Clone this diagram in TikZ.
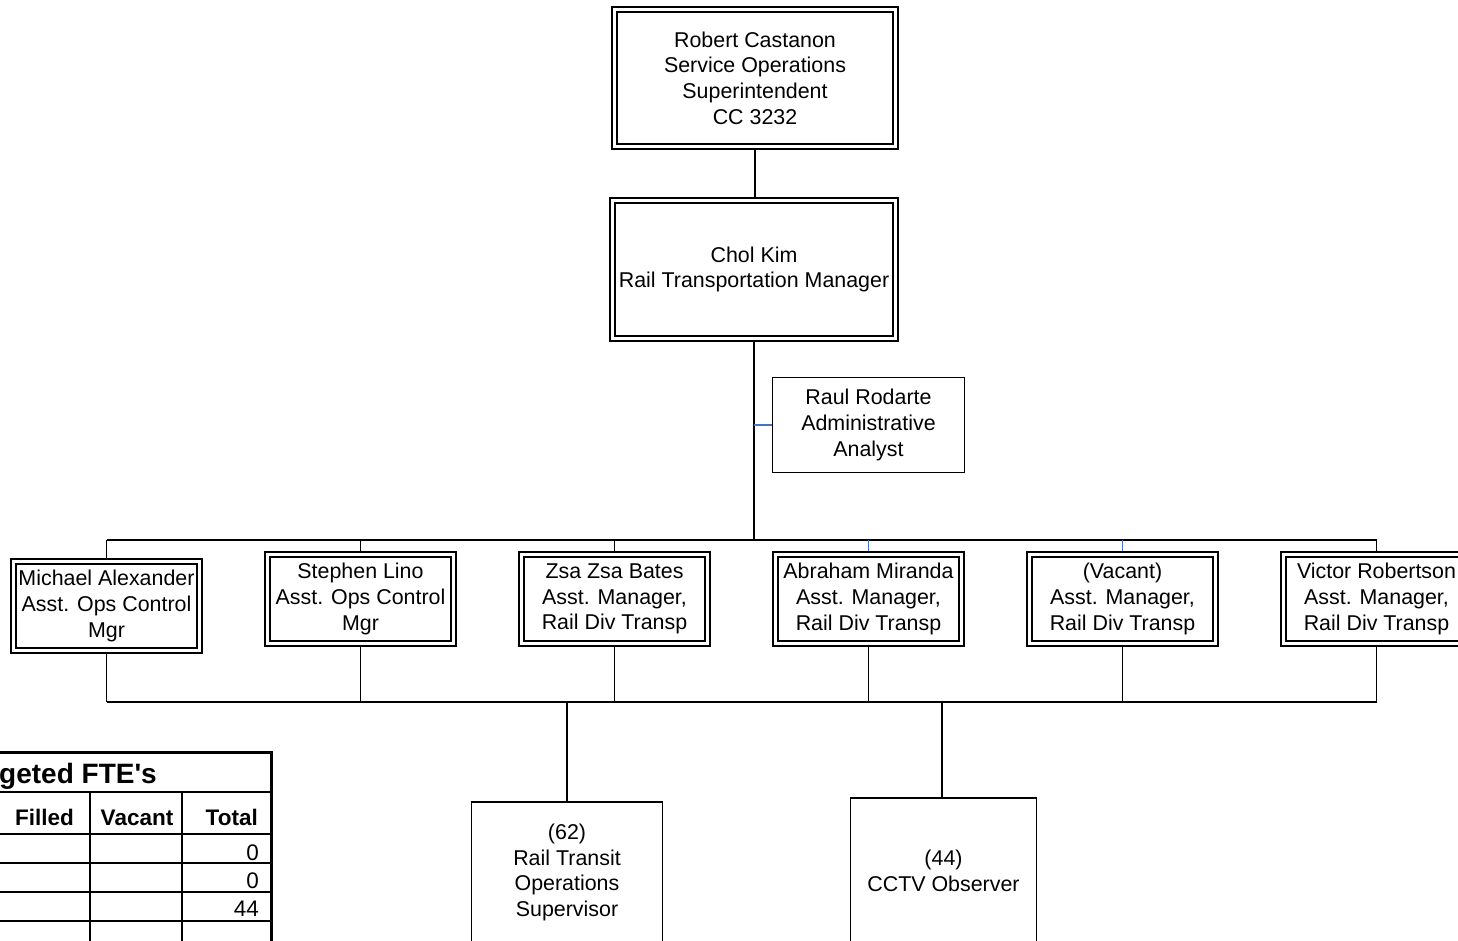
\documentclass[tikz,border=0pt]{standalone}
\usepackage{fontspec}
\setmainfont{Liberation Sans}
\definecolor{LinkBlue}{HTML}{4472C4}
\usetikzlibrary{positioning,backgrounds}

\begin{document}
\begin{tikzpicture}[x=1pt,y=-1pt,node distance=66.5pt,
  mgrbox/.style={draw,double,line width=1.5pt,double distance=3.4pt,inner sep=0pt,align=center,font=\fontsize{21.4}{25.7}\selectfont},
  rowbox/.style={mgrbox,minimum width=186pt,minimum height=89pt},
  staffbox/.style={draw,line width=1.5pt,inner sep=0pt,align=center,font=\fontsize{21.4}{25.7}\selectfont},
  link/.style={line width=1.8pt},
  bluelink/.style={line width=1.4pt,LinkBlue},
  rule/.style={line width=2.4pt},
  cell/.style={inner sep=0pt,font=\fontsize{22.5}{26}\selectfont},
  hcell/.style={inner sep=0pt,font=\bfseries\fontsize{22.5}{26}\selectfont}]
  \useasboundingbox (0,0) rectangle (1458,941);
  \clip (0,0) rectangle (1458,941);

  % top of the chart
  \node[mgrbox,minimum width=281pt,minimum height=137pt] (castanon) at (755,78) {Robert Castanon\\Service Operations\\Superintendent\\CC 3232};
  \node[mgrbox,minimum width=283pt,minimum height=138pt] (kim) at (754,269.5) {Chol Kim\\Rail Transportation Manager};
  \node[staffbox,minimum width=192pt,minimum height=95pt] (rodarte) at (868.5,425) {Raul Rodarte\\Administrative\\Analyst};

  % assistant managers
  \node[rowbox] (lino) at (360.5,599) {Stephen Lino\\Asst. Ops Control\\Mgr};
  \node[rowbox,left=of lino,yshift=-7pt] (alexander) {Michael Alexander\\Asst. Ops Control\\Mgr};
  \node[rowbox,right=of lino] (bates) {Zsa Zsa Bates\\Asst. Manager,\\Rail Div Transp};
  \node[rowbox,right=of bates] (miranda) {Abraham Miranda\\Asst. Manager,\\Rail Div Transp};
  \node[rowbox,right=of miranda] (vacant) {(Vacant)\\Asst. Manager,\\Rail Div Transp};
  \node[rowbox,right=of vacant] (robertson) {Victor Robertson\\Asst. Manager,\\Rail Div Transp};

  % staff
  \node[staffbox,minimum width=191pt,minimum height=141pt] (supv) at (567,872.5) {(62)\\Rail Transit\\Operations\\Supervisor};
  \node[staffbox,minimum width=186pt,minimum height=146pt] (cctv) at (943.5,871) {(44)\\CCTV Observer};

  \coordinate (upbus) at (754,540);
  \coordinate (lowbus) at (754,702);

  \begin{scope}[on background layer]
    \draw[link] (castanon.south) -- (castanon.south |- kim.north);
    \draw[link] (kim.south) -- (kim.south |- upbus);
    \draw[bluelink] (rodarte.west) -- (rodarte.west -| kim.south);
    \draw[link] (alexander.north |- upbus) -- (robertson.north |- upbus);
    \draw[link] (alexander.north) -- (alexander.north |- upbus);
    \draw[link] (lino.north) -- (lino.north |- upbus);
    \draw[link] (bates.north) -- (bates.north |- upbus);
    \draw[bluelink] (miranda.north) -- (miranda.north |- upbus);
    \draw[bluelink] (vacant.north) -- (vacant.north |- upbus);
    \draw[link] (robertson.north) -- (robertson.north |- upbus);
    \draw[link] (alexander.south) -- (alexander.south |- lowbus);
    \draw[link] (lino.south) -- (lino.south |- lowbus);
    \draw[link] (bates.south) -- (bates.south |- lowbus);
    \draw[link] (miranda.south) -- (miranda.south |- lowbus);
    \draw[link] (vacant.south) -- (vacant.south |- lowbus);
    \draw[link] (robertson.south) -- (robertson.south |- lowbus);
    \draw[link] (alexander.south |- lowbus) -- (robertson.south |- lowbus);
    \draw[link] (supv.north) -- (supv.north |- lowbus);
    \draw[link] ([xshift=-1.5pt]cctv.north) -- ([xshift=-1.5pt]cctv.north |- lowbus);
  \end{scope}

  % FTE table, cut by the page edge
  \draw[line width=3pt] (0,752) -| (271,941);
  \draw[rule] (0,792) -- (271,792);
  \draw[rule] (0,834) -- (271,834);
  \draw[rule] (0,863) -- (271,863);
  \draw[rule] (0,892) -- (271,892);
  \draw[rule] (0,921) -- (271,921);
  \draw[rule] (90,792) -- (90,941);
  \draw[rule] (182,792) -- (182,941);
  \node[hcell,font=\bfseries\fontsize{28}{32}\selectfont,anchor=base east] (ttl) at (157,783) {geted FTE\textquotesingle s};
  \node[hcell,anchor=base east] (hfilled) at (74,825) {Filled};
  \node[hcell,anchor=base] (hvacant) at (137,825) {Vacant};
  \node[hcell,anchor=base east] (htotal) at (258,825) {Total};
  \node[cell,anchor=base east] (n1) at (259,860) {0};
  \node[cell,anchor=base east] (n2) at (259,888) {0};
  \node[cell,anchor=base east] (n3) at (259,916) {44};
\end{tikzpicture}
\end{document}
